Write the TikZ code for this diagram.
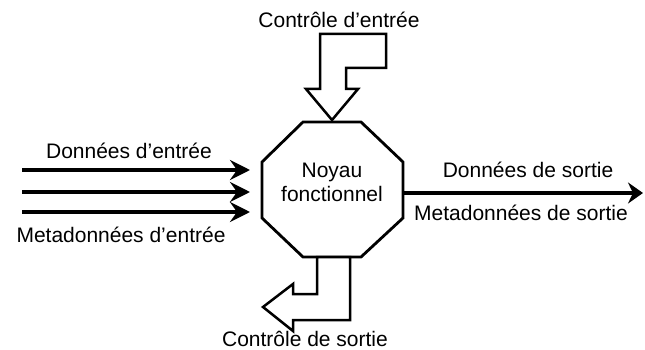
\documentclass[tikz,border=0pt]{standalone}
\usepackage{fontspec}
\setmainfont{Liberation Sans}
\usetikzlibrary{arrows.meta}
\begin{document}
\begin{tikzpicture}[x=1pt,y=-1pt,
  lbl/.style={font=\fontsize{21}{24}\selectfont, inner sep=0pt, anchor=base},
  flow/.style={line width=4pt, -{Stealth[length=20pt,width=20pt,inset=7pt]}},
  outflow/.style={line width=4pt, -{Stealth[length=15pt,width=21pt,inset=5pt]}},
  blockarrow/.style={draw, line width=2.5pt, fill=white, line join=miter},
  hull/.style={draw, line width=2.8pt, line join=miter, fill=white}]
\useasboundingbox (0,0) rectangle (645,350);

% octagon core
\path[hull] (303,122) -- (361,122) -- (403,162) -- (403,218) -- (361,257) -- (303,257) -- (262,218) -- (262,162) -- cycle;
\node[lbl, align=center] (core) at (332,201) {Noyau\\fonctionnel};

% control arrows
\path[blockarrow] (320,34) -- (386,34) -- (386,68) -- (346,68) -- (346,89) -- (358,89) -- (332,120) -- (306,89) -- (320,89) -- cycle;
\path[blockarrow] (317,257) -- (317,294) -- (293,294) -- (293,284) -- (263,307) -- (293,331) -- (293,320) -- (350,320) -- (350,257) -- cycle;

% endpoints
\coordinate (srcA) at (22,170);
\coordinate (srcB) at (22,192);
\coordinate (srcC) at (22,212);
\coordinate (inA) at (250,170);
\coordinate (inB) at (250,192);
\coordinate (inC) at (250,212);
\coordinate (outS) at (403,193);
\coordinate (outE) at (643,193);

\draw[flow] (srcA) -- (inA);
\draw[flow] (srcB) -- (inB);
\draw[flow] (srcC) -- (inC);
\draw[outflow] (outS) -- (outE);

% labels
\node[lbl] (lce) at (339,28) {Contrôle d’entrée};
\node[lbl] (lde) at (129,158) {Données d’entrée};
\node[lbl] (lme) at (121,242) {Metadonnées d’entrée};
\node[lbl] (lds) at (528,177) {Données de sortie};
\node[lbl] (lms) at (521,220) {Metadonnées de sortie};
\node[lbl] (lcs) at (305,346) {Contrôle de sortie};
\end{tikzpicture}
\end{document}
